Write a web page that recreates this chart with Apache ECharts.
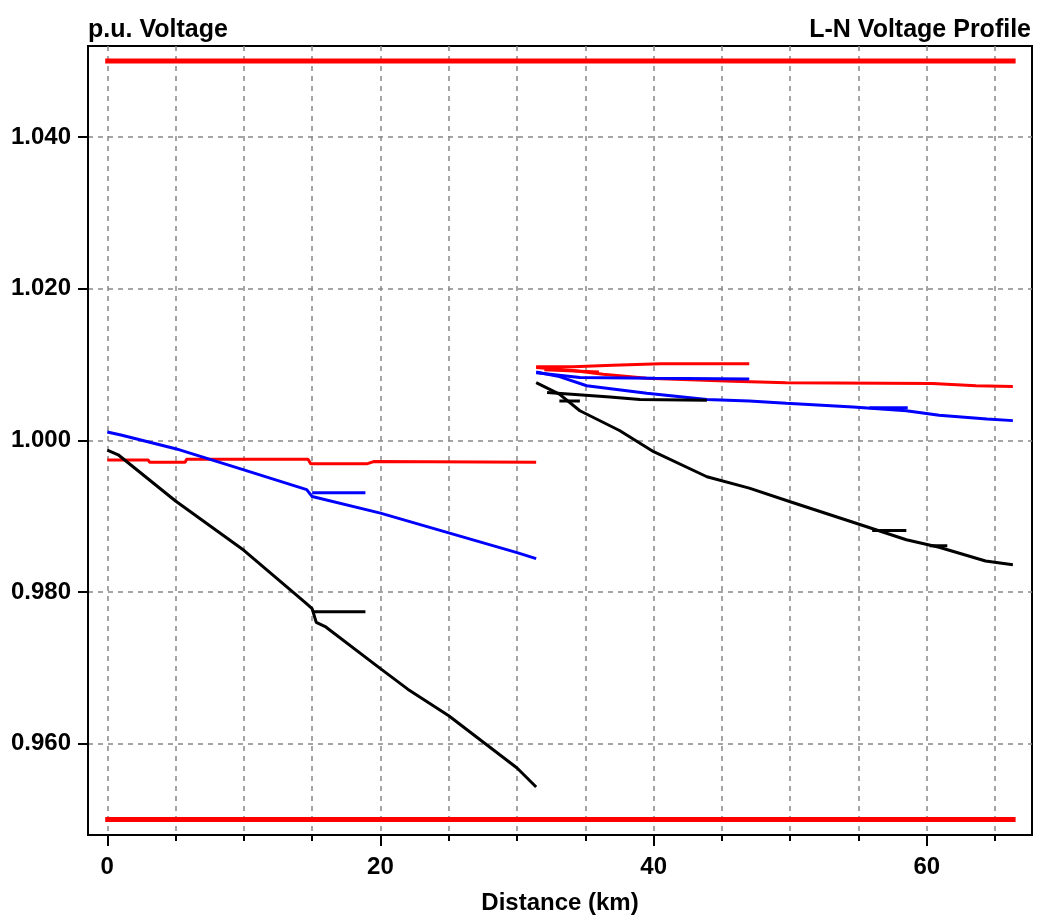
<!DOCTYPE html>
<html>
<head>
<meta charset="utf-8">
<script src="https://cdn.jsdelivr.net/npm/echarts@6/dist/echarts.min.js"></script>
<style>
  html, body { margin: 0; padding: 0; background: #fff; }
  #chart { width: 1038px; height: 924px; }
</style>
</head>
<body>
<div id="chart"></div>
<script>
// tick values
const xLabelTicks = [0, 20, 40, 60];
const xGridTicks = [0, 5, 10, 15, 20, 25, 30, 35, 40, 45, 50, 55, 60, 65];
const yTicks = [0.96, 0.98, 1.0, 1.02, 1.04];

// limits (km, p.u.)
const upperLimit = [[-0.15, 1.05], [66.5, 1.05]];
const lowerLimit = [[-0.15, 0.95], [66.5, 0.95]];

// first feeder section
const black1 = [[0, 0.9987], [0.8, 0.9981], [5, 0.9920], [10, 0.9855], [14.5, 0.9786], [15.0, 0.9778], [15.3, 0.9760], [16, 0.9754], [20, 0.9699], [22, 0.9672], [25, 0.9637], [30, 0.9568], [31.4, 0.9543]];
const black1b = [[15.0, 0.9774], [18.9, 0.9774]];
const blue1 = [[0, 1.0011], [1, 1.0007], [5, 0.9989], [10, 0.9961], [14.6, 0.9935], [15.0, 0.9926], [20, 0.9904], [25, 0.9878], [30, 0.9852], [31.4, 0.9844]];
const blue1b = [[15.0, 0.9931], [18.9, 0.9931]];
const red1 = [[0, 0.9974], [3.0, 0.9974], [3.1, 0.9971], [5.7, 0.9971], [5.8, 0.9975], [14.7, 0.9975], [14.9, 0.9969], [19.0, 0.9969], [19.5, 0.9972], [31.4, 0.9971]];

// second feeder section
const black2 = [[31.4, 1.0076], [33.1, 1.0061], [34.6, 1.0039], [37.5, 1.0013], [40.0, 0.9985], [43.9, 0.9952], [47.0, 0.9937], [50.0, 0.9919], [55.1, 0.9889], [58.5, 0.9869], [60.9, 0.9859], [64.3, 0.9841], [66.3, 0.9836]];
const black2a = [[32.2, 1.0063], [36.8, 1.0057], [39.0, 1.0054], [43.9, 1.0053]];
const black2b = [[33.1, 1.0052], [34.6, 1.0052]];
const black2c = [[56.0, 0.9881], [58.5, 0.9881]];
const black2d = [[60.2, 0.9861], [61.5, 0.9861]];
const blue2 = [[31.4, 1.0090], [33.1, 1.0084], [35.1, 1.0072], [39.5, 1.0062], [43.9, 1.0054], [47.0, 1.0052], [49.7, 1.0049], [54.6, 1.0044], [58.5, 1.0039], [60.9, 1.0033], [64.4, 1.0028], [66.3, 1.0026]];
const blue2a = [[31.4, 1.0089], [34.6, 1.0083], [40.0, 1.0082], [47.0, 1.0081]];
const blue2b = [[55.8, 1.0043], [58.6, 1.0043]];
const red2 = [[31.4, 1.0096], [34.1, 1.0092], [36.3, 1.0087], [39.5, 1.0082], [45.8, 1.0078], [49.7, 1.0076], [60.4, 1.0075], [63.6, 1.0072], [66.3, 1.0071]];
const red2a = [[31.4, 1.0097], [34.1, 1.0097], [37.0, 1.0099], [40.5, 1.0101], [47.0, 1.0101]];
const red2b = [[32.0, 1.0093], [36.0, 1.0090]];

const chart = echarts.init(document.getElementById('chart'));
const font = 'Liberation Sans, Arial, sans-serif';

const line = (data, color, width) => ({
  type: 'line',
  data: data,
  xAxisIndex: 0,
  yAxisIndex: 0,
  showSymbol: false,
  symbol: 'none',
  silent: true,
  lineStyle: { color: color, width: width || 3 },
  z: 5
});

const options = {
  animation: false,
  backgroundColor: '#fff',
  title: [
    { text: 'p.u. Voltage', left: 88, top: 18, padding: 0,
      textStyle: { fontFamily: font, fontSize: 25, fontWeight: 'bold', color: '#000' } },
    { text: 'L-N Voltage Profile', right: 7, top: 18, padding: 0,
      textStyle: { fontFamily: font, fontSize: 25, fontWeight: 'bold', color: '#000' } }
  ],
  grid: {
    left: 88, top: 46, right: 6, bottom: 89,
    containLabel: false,
    outerBoundsMode: 'none',
    show: true,
    borderColor: '#000',
    borderWidth: 2,
    backgroundColor: '#fff'
  },
  xAxis: [
    {
      type: 'value', min: -1.41, max: 67.7, position: 'bottom',
      name: 'Distance (km)', nameLocation: 'middle', nameGap: 56,
      nameTextStyle: { fontFamily: font, fontSize: 24, fontWeight: 'bold', color: '#000' },
      axisLine: { show: true, onZero: false, lineStyle: { color: '#000', width: 2 } },
      axisTick: { show: true, customValues: xLabelTicks, length: 11, lineStyle: { color: '#000', width: 2 } },
      axisLabel: { customValues: xLabelTicks, margin: 20, fontFamily: font, fontSize: 24, fontWeight: 'bold', color: '#000' },
      splitLine: { show: false }
    },
    {
      type: 'value', min: -1.41, max: 67.7, position: 'bottom',
      axisLine: { show: false, onZero: false },
      axisTick: { show: true, customValues: xGridTicks, length: 6, lineStyle: { color: '#000', width: 2 } },
      axisLabel: { show: false },
      splitLine: { show: true, lineStyle: { color: '#888', width: 1.5, type: [5, 5] } }
    }
  ],
  yAxis: {
    type: 'value', min: 0.94797, max: 1.05199,
    axisLine: { show: true, onZero: false, lineStyle: { color: '#000', width: 2 } },
    axisTick: { show: true, customValues: yTicks, length: 10, lineStyle: { color: '#000', width: 2 } },
    axisLabel: {
      customValues: yTicks, margin: 17, fontFamily: font, fontSize: 24, fontWeight: 'bold', color: '#000',
      formatter: v => v.toFixed(3)
    },
    splitLine: { show: true, lineStyle: { color: '#888', width: 1.5, type: [5, 5] } }
  },
  series: [
    line(upperLimit, '#ff0000', 5),
    line(lowerLimit, '#ff0000', 5),
    line(red1, '#ff0000'),
    line(blue1, '#0000ff'),
    line(blue1b, '#0000ff'),
    line(black1, '#000000'),
    line(black1b, '#000000'),
    line(red2, '#ff0000'),
    line(red2a, '#ff0000'),
    line(red2b, '#ff0000'),
    line(blue2, '#0000ff'),
    line(blue2a, '#0000ff'),
    line(blue2b, '#0000ff'),
    line(black2, '#000000'),
    line(black2a, '#000000'),
    line(black2b, '#000000'),
    line(black2c, '#000000'),
    line(black2d, '#000000')
  ]
};
chart.setOption(options);
</script>
</body>
</html>
